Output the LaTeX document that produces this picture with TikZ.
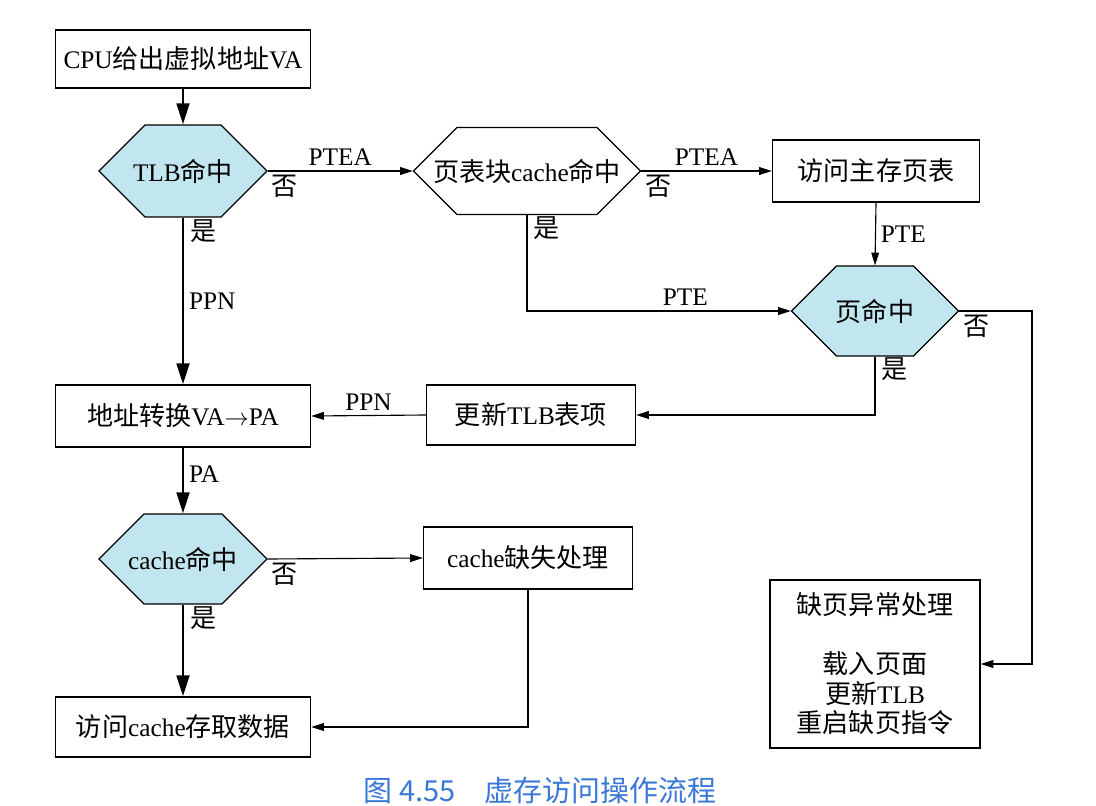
\documentclass[tikz,border=0pt]{standalone}
\usepackage{fontspec}
\setmainfont{Liberation Serif}
\newfontfamily\cjk[Scale=1.03]{Noto Sans CJK SC}
\usepackage{tikz}
\definecolor{hitcyan}{HTML}{C2E6F0}
\definecolor{capblue}{HTML}{3A78D8}
\usetikzlibrary{arrows.meta, shapes.misc}
\newcommand{\zh}[1]{{\cjk #1}}

\begin{document}
\begin{tikzpicture}[x=0.025cm, y=-0.025cm, font=\fontsize{18}{21}\selectfont,
    box/.style={draw, line width=0.9pt, minimum height=1.55cm, inner sep=2pt},
    hexa/.style={draw, line width=0.9pt, fill=hitcyan, chamfered rectangle,
        chamfered rectangle xsep=0.55cm, chamfered rectangle ysep=0.5*#1,
        minimum height=#1, inner sep=2pt},
    hexa/.default=1.5cm,
    no/.style={below right, inner sep=2.5pt},
    yes/.style={below right, inner sep=2.5pt, yshift=2pt, xshift=2pt},
    flow/.style={line width=0.8pt, -{Triangle[length=9pt, width=5.5pt]}},
    main/.style={line width=2pt, -{Triangle[length=15pt, width=9pt]}}]
    \useasboundingbox (0,0) rectangle (1096,806);
    % left column
    \node[box, minimum width=6.375cm, minimum height=1.45cm] (cpu) at (183, 59) {CPU\zh{给出虚拟地址}VA};
    \node[hexa=1.55cm, minimum width=4.2cm] (tlb) at (183, 171) {TLB\zh{命中}};
    \node[box, minimum width=6.375cm] (xlat) at (183, 416) {\zh{地址转换}VA$\rightarrow$PA};
    \node[hexa, minimum width=4.2cm] (cache) at (183, 559) {cache\zh{命中}};
    \node[box, minimum width=6.375cm, minimum height=1.5cm] (acc) at (183, 727) {\zh{访问}cache\zh{存取数据}};
    % middle column
    \node[hexa=1.425cm, fill=white, minimum width=5.675cm] (ptc) at (527, 171) {\zh{页表块}cache\zh{命中}};
    \node[box, minimum width=5.225cm, minimum height=1.5cm] (upd) at (531, 415) {\zh{更新}TLB\zh{表项}};
    \node[box, minimum width=5.225cm] (cmiss) at (528, 558) {cache\zh{缺失处理}};
    % right column
    \node[box, minimum width=5.175cm] (mem) at (876, 171) {\zh{访问主存页表}};
    \node[hexa, minimum width=4.175cm] (page) at (875, 311) {\zh{页命中}};
    \node[box, minimum width=5.25cm, minimum height=4.2cm, align=center] (fault) at (875, 664)
        {\zh{缺页异常处理}\\[21pt]\zh{载入页面}\\\zh{更新}TLB\\\zh{重启缺页指令}};
    \coordinate (rt) at (1032, 311);
    % caption
    \node[font=\cjk\fontsize{20}{24}\selectfont, text=capblue] (cap) at (540, 791) {图 4.55\quad 虚存访问操作流程};
    % connectors
    \draw[main] (cpu.south) -- (tlb.north);
    \draw[flow] (tlb.east) -- node[above] {PTEA} node[pos=0, no] {\zh{否}} (ptc.west);
    \draw[flow] (ptc.east) -- node[above] {PTEA} node[pos=0, no] {\zh{否}} (mem.west);
    \draw[flow] (mem.south) -- node[right] {PTE} (page.north);
    \draw[flow] (ptc.south) node[yes] {\zh{是}} |- node[pos=0.8, above] {PTE} (page.west);
    \draw[flow] (page.east) node[no] {\zh{否}} -- (rt) |- (fault.east);
    \draw[flow] (page.south) node[yes] {\zh{是}} |- (upd.east);
    \draw[flow] (upd.west) -- node[above] {PPN} (xlat.east);
    \draw[main] (tlb.south) node[yes] {\zh{是}} -- node[right] {PPN} (xlat.north);
    \draw[main] (xlat.south) -- node[pos=0.4, right] {PA} (cache.north);
    \draw[flow] (cache.east) -- node[pos=0, no] {\zh{否}} (cmiss.west);
    \draw[flow] (cmiss.south) |- (acc.east);
    \draw[main] (cache.south) node[yes] {\zh{是}} -- (acc.north);
\end{tikzpicture}
\end{document}
